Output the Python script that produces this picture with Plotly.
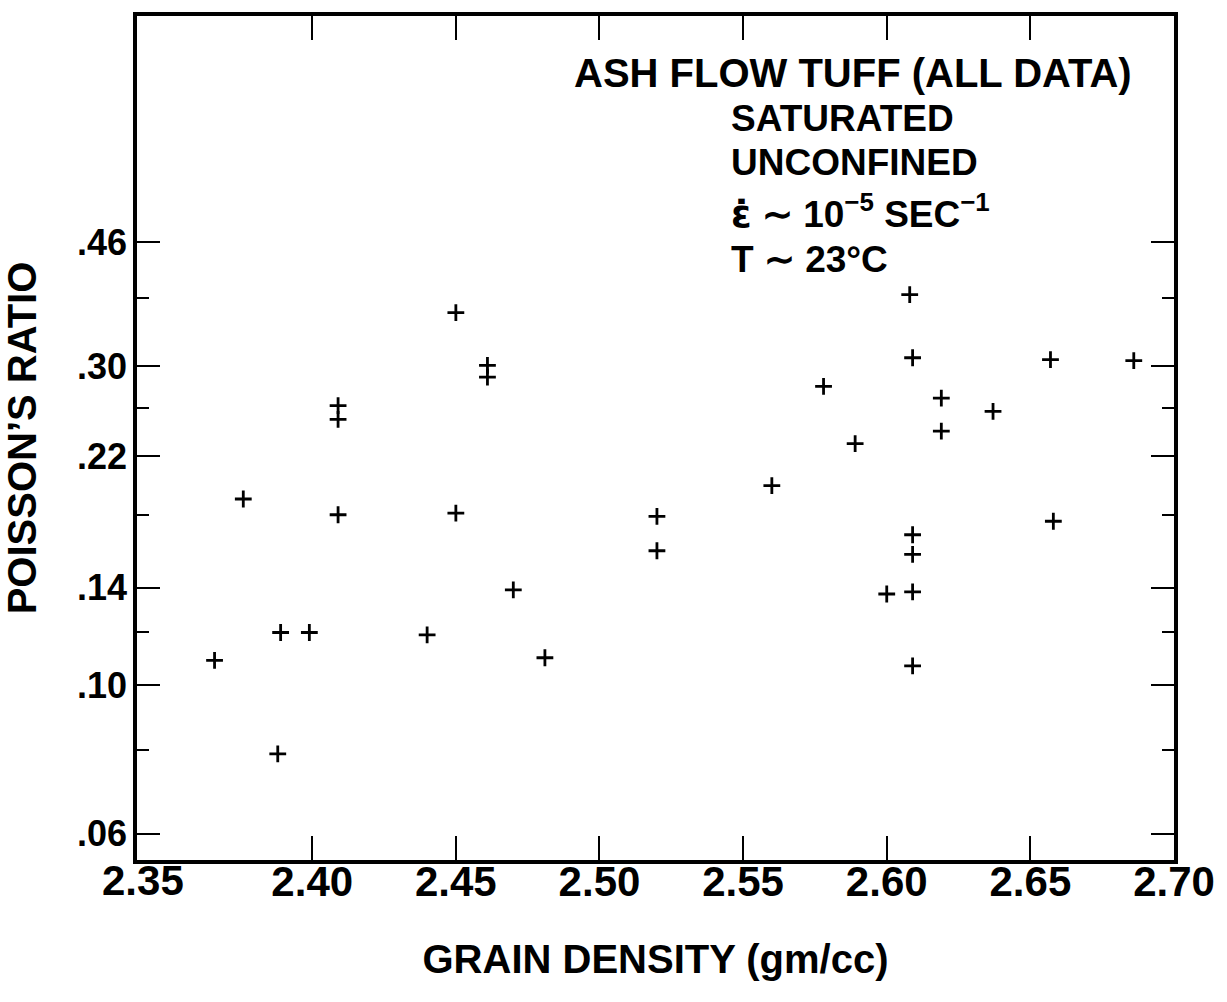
import math
import plotly.graph_objects as go

# Grain density (gm/cc) and Poisson's ratio for each test specimen
grain_density = [
    2.366, 2.376, 2.389, 2.399, 2.388, 2.409, 2.409, 2.409, 2.440, 2.450,
    2.450, 2.461, 2.461, 2.470, 2.481, 2.520, 2.520, 2.560, 2.578, 2.589,
    2.600, 2.608, 2.609, 2.609, 2.609, 2.609, 2.609, 2.619, 2.619, 2.637,
    2.657, 2.658, 2.686,
]
poisson_ratio = [
    0.109, 0.190, 0.120, 0.120, 0.079, 0.262, 0.250, 0.180, 0.119, 0.361,
    0.181, 0.301, 0.289, 0.139, 0.110, 0.179, 0.159, 0.199, 0.280, 0.230,
    0.137, 0.384, 0.309, 0.168, 0.157, 0.138, 0.107, 0.269, 0.240, 0.257,
    0.307, 0.176, 0.306,
]

x_tick_vals = [2.40, 2.45, 2.50, 2.55, 2.60, 2.65, 2.70]
x_tick_text = ["2.40", "2.45", "2.50", "2.55", "2.60", "2.65", "2.70"]
x_origin_label = "2.35"

y_tick_vals = [0.06, 0.10, 0.14, 0.22, 0.30, 0.46]
y_tick_text = [".06", ".10", ".14", ".22", ".30", ".46"]
y_minor_vals = [0.08, 0.12, 0.18, 0.26, 0.38]

FONT = "Liberation Sans"
INK = "black"

fig = go.Figure(
    go.Scatter(
        x=grain_density,
        y=poisson_ratio,
        mode="markers",
        marker=dict(symbol="cross-thin", size=12, line=dict(width=2.8, color=INK), color=INK),
        hoverinfo="x+y",
    )
)

axis_common = dict(
    showline=True,
    linewidth=3.5,
    linecolor=INK,
    mirror="ticks",
    showgrid=False,
    zeroline=False,
    ticks="inside",
    tickwidth=2,
    tickcolor=INK,
)

fig.update_xaxes(
    **axis_common,
    range=[2.339, 2.70],
    tickmode="array",
    tickvals=x_tick_vals,
    ticktext=x_tick_text,
    ticklen=24,
    ticklabelstandoff=-18,
    tickfont=dict(family=FONT, size=42, color=INK, weight="bold"),
    title=dict(
        text="GRAIN DENSITY (gm/cc)",
        font=dict(family=FONT, size=40, color=INK, weight="bold"),
        standoff=42,
    ),
)

fig.update_yaxes(
    **axis_common,
    type="log",
    range=[-1.261, 0.001],
    tickmode="array",
    tickvals=y_tick_vals,
    ticktext=y_tick_text,
    ticklen=23,
    ticklabelstandoff=-1,
    tickfont=dict(family=FONT, size=36, color=INK, weight="bold"),
    minor=dict(
        tickmode="array",
        tickvals=y_minor_vals,
        ticks="inside",
        ticklen=12,
        tickwidth=2,
        tickcolor=INK,
        showgrid=False,
    ),
    title=dict(
        text="POISSON’S RATIO",
        font=dict(family=FONT, size=40, color=INK, weight="bold"),
        standoff=33,
    ),
)

note_font = dict(family=FONT, size=37, color=INK, weight="bold")
eps_dot = "<span style='font-family:DejaVu Sans'>ε̇</span>"
annotations = [
    dict(text="ASH FLOW TUFF (ALL DATA)", x=0.690, y=0.932, xanchor="center", yanchor="middle",
         font=dict(family=FONT, size=40, color=INK, weight="bold")),
    dict(text="SATURATED", x=0.571, y=0.879, xanchor="left", yanchor="middle"),
    dict(text="UNCONFINED", x=0.571, y=0.827, xanchor="left", yanchor="middle"),
    dict(text=eps_dot + " ∼ 10<sup>−5</sup> SEC<sup>−1</sup>", x=0.571, y=0.768,
         xanchor="left", yanchor="middle"),
    dict(text="T ∼ 23°C", x=0.571, y=0.711, xanchor="left", yanchor="middle"),
]
for a in annotations:
    a.setdefault("font", note_font)
    a.update(xref="paper", yref="paper", showarrow=False)

# Label for the left end of the density axis
annotations.append(
    dict(
        text=x_origin_label, xref="paper", yref="paper", x=0, y=0,
        xanchor="center", yanchor="top", xshift=6, yshift=5,
        showarrow=False, font=dict(family=FONT, size=42, color=INK, weight="bold"),
    )
)

fig.update_layout(
    width=1227,
    height=1002,
    margin=dict(l=137, r=46, t=16, b=142),
    paper_bgcolor="white",
    plot_bgcolor="white",
    showlegend=False,
    annotations=annotations,
)

fig.write_html("out.html")
